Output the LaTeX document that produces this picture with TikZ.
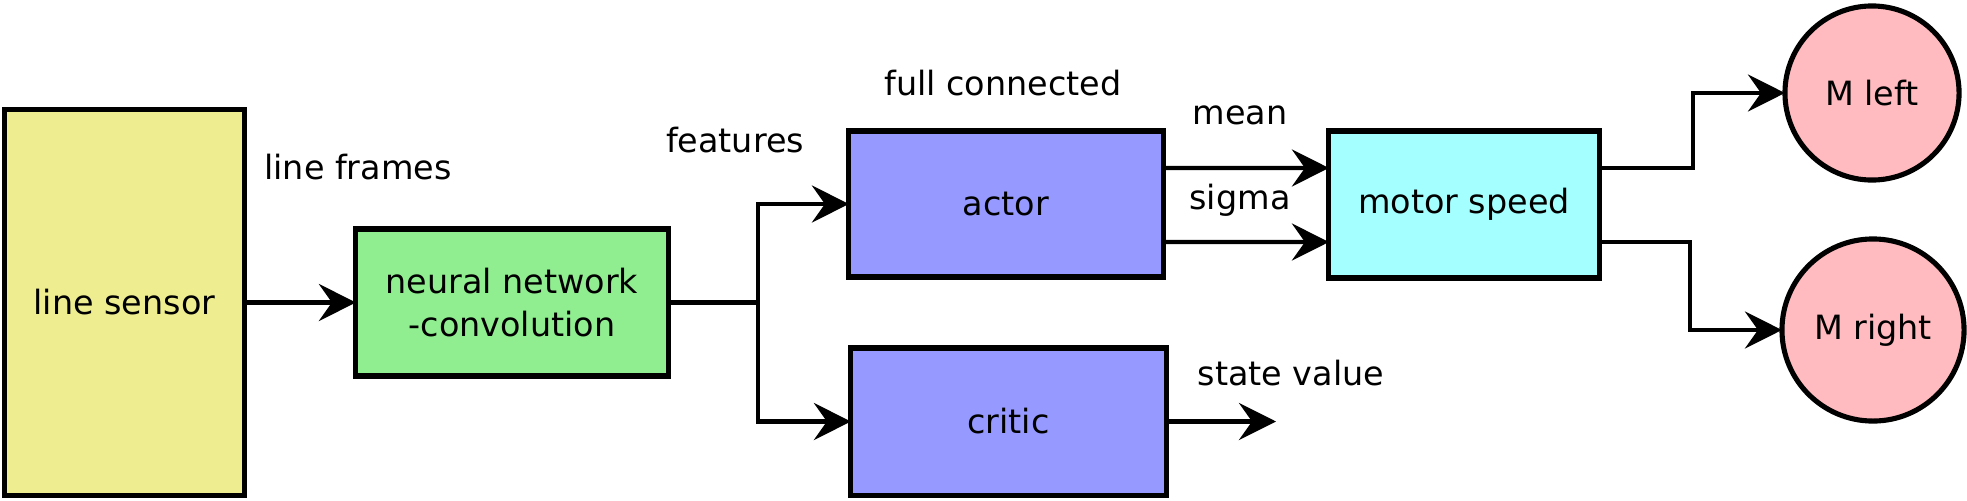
\documentclass[tikz,border=0pt]{standalone}
\usepackage{fontspec}
\setmainfont{DejaVu Sans}
\usetikzlibrary{arrows.meta}
\definecolor{lsfill}{RGB}{238,238,144}
\definecolor{nnfill}{RGB}{144,238,144}
\definecolor{acfill}{RGB}{150,153,255}
\definecolor{msfill}{RGB}{164,255,255}
\definecolor{mfill}{RGB}{255,187,192}
\tikzset{
  blk/.style={draw=black, line width=1.45pt, rectangle, inner sep=0pt, outer sep=0pt, align=center},
  mot/.style={draw=black, line width=1.45pt, circle, fill=mfill, inner sep=0pt, outer sep=0pt},
  lbl/.style={inner sep=0pt},
  wire/.style={line width=1.2pt, line join=miter},
  arr/.style={wire, -{Stealth[length=3.7mm, width=3.7mm, inset=1.3mm]}}
}
\begin{document}
\begin{tikzpicture}[x=0.01cm, y=-0.01cm, font=\fontsize{9.5}{12}\selectfont]
\useasboundingbox (0,0) rectangle (1967,500);
% blocks
\node[blk, fill=lsfill, minimum width=2.39cm, minimum height=3.85cm] (ls) at (124.5,302.5) {line sensor};
\node[blk, fill=nnfill, minimum width=3.12cm, minimum height=1.47cm] (nn) at (512,302.5) {neural network\\-convolution};
\node[blk, fill=acfill, minimum width=3.14cm, minimum height=1.46cm] (actor) at (1006,204) {actor};
\node[blk, fill=acfill, minimum width=3.15cm, minimum height=1.47cm] (critic) at (1008.5,421.5) {critic};
\node[blk, fill=msfill, minimum width=2.70cm, minimum height=1.47cm] (motor) at (1464,204.5) {motor speed};
\node[mot, minimum size=1.74cm] (ml) at (1872,93) {M left};
\node[mot, minimum size=1.82cm] (mr) at (1873,330) {M right};
% labels
\node[lbl] (lf) at (358,167) {line frames};
\node[lbl] (feat) at (735,140) {features};
\node[lbl] (fc) at (1003,83) {full connected};
\node[lbl] (mean) at (1240,115) {mean};
\node[lbl] (sig) at (1240,200) {sigma};
\node[lbl] (sv) at (1291,373) {state value};
% helper coordinates
\coordinate (br) at (758,302.5);
\coordinate (svend) at (1276,421.5);
% connectors
\draw[arr] (ls.east) -- (nn.west);
\draw[wire] (nn.east) -- (br);
\draw[arr] (br) |- (actor.west);
\draw[arr] (br) |- (critic.west);
\draw[arr] ([yshift=0.36cm]actor.east) -- ([yshift=0.365cm]motor.west);
\draw[arr] ([yshift=-0.38cm]actor.east) -- ([yshift=-0.375cm]motor.west);
\draw[arr] (critic.east) -- (svend);
\draw[arr] ([yshift=0.365cm]motor.east) -- ++(94,0) |- (ml.west);
\draw[arr] ([yshift=-0.375cm]motor.east) -- ++(91,0) |- (mr.west);
\end{tikzpicture}
\end{document}
